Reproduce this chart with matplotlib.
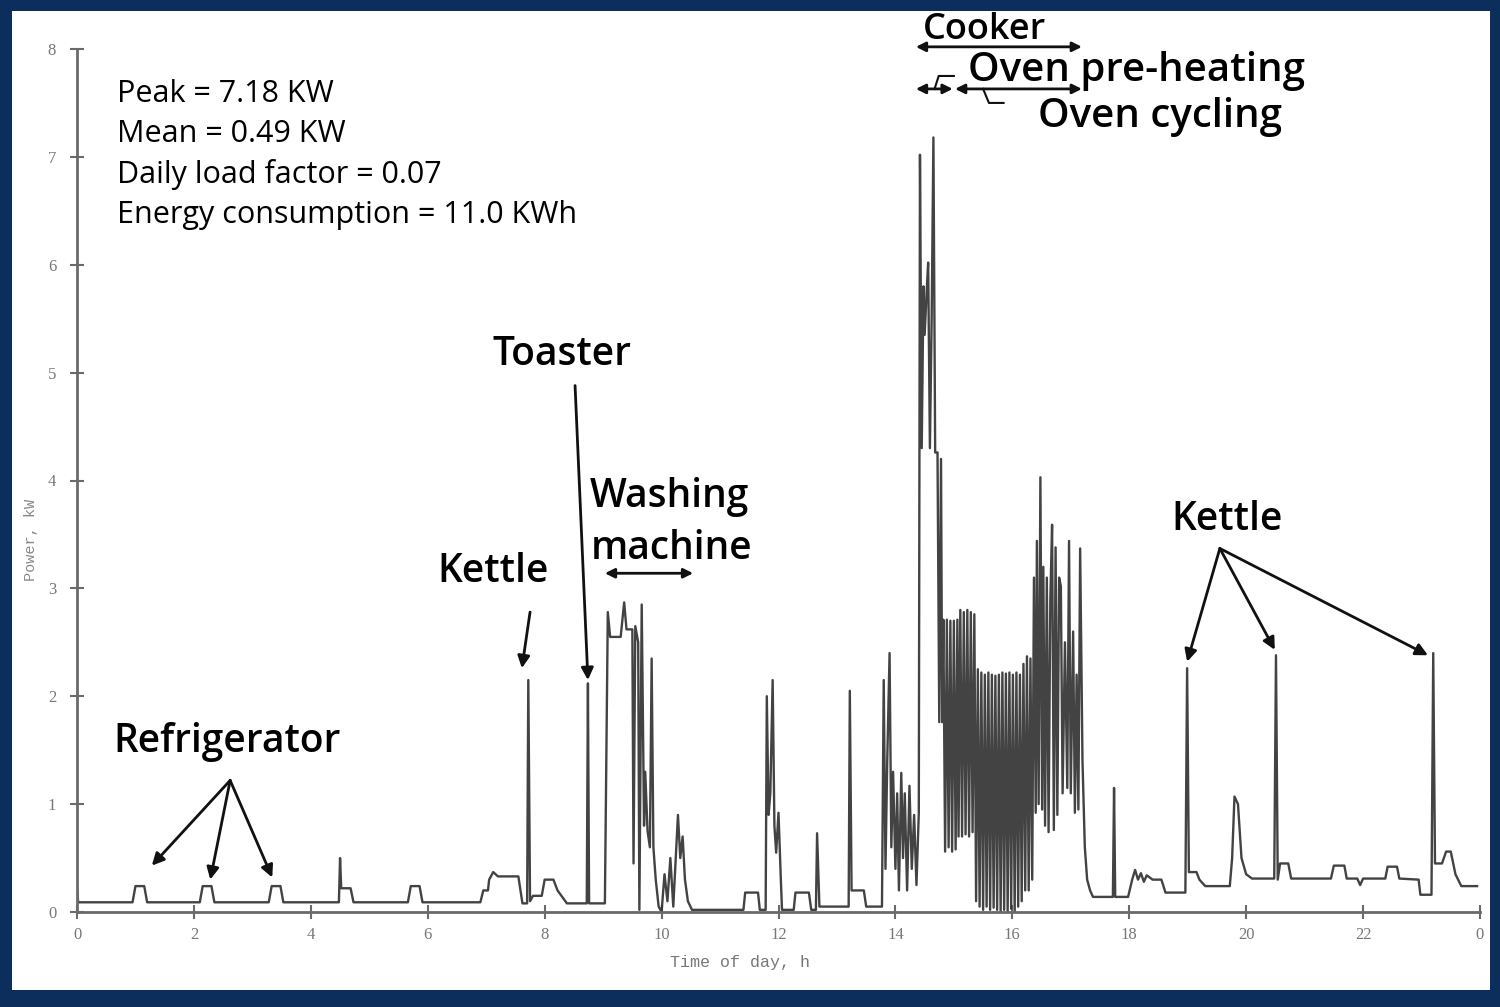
import matplotlib.pyplot as plt
from matplotlib.patches import Rectangle

# --- data (time in h, power in kW) ---
night = [(0.0, 0.22), (0.02, 0.09), (0.95, 0.09), (1.0, 0.24), (1.15, 0.24), (1.2, 0.09),
         (2.1, 0.09), (2.15, 0.24), (2.3, 0.24), (2.35, 0.09),
         (3.28, 0.09), (3.33, 0.24), (3.48, 0.24), (3.53, 0.09),
         (4.48, 0.09), (4.5, 0.5), (4.52, 0.22), (4.68, 0.22), (4.73, 0.09),
         (5.66, 0.09), (5.71, 0.24), (5.86, 0.24), (5.91, 0.09),
         (6.9, 0.09), (6.95, 0.2), (7.03, 0.2), (7.05, 0.3), (7.12, 0.37), (7.2, 0.33),
         (7.55, 0.33), (7.62, 0.08), (7.7, 0.08), (7.72, 2.15), (7.75, 0.1), (7.8, 0.15),
         (7.95, 0.15), (8.0, 0.3), (8.15, 0.3), (8.22, 0.2), (8.38, 0.08), (8.72, 0.08),
         (8.74, 2.12), (8.76, 0.08), (9.03, 0.08)]

washing = [(9.08, 2.78), (9.12, 2.55), (9.3, 2.55), (9.36, 2.87), (9.4, 2.62), (9.5, 2.62),
           (9.52, 0.45), (9.55, 2.65), (9.6, 2.5), (9.62, 0.02), (9.66, 2.85), (9.7, 0.8),
           (9.72, 1.3), (9.76, 0.75), (9.8, 0.6), (9.83, 2.35), (9.86, 0.6), (9.9, 0.3),
           (9.95, 0.05), (10.0, 0.0), (10.05, 0.35), (10.1, 0.1), (10.15, 0.5), (10.2, 0.05),
           (10.28, 0.9), (10.32, 0.5), (10.36, 0.7), (10.4, 0.3), (10.45, 0.1), (10.52, 0.02)]

midday = [(11.4, 0.02), (11.43, 0.18), (11.65, 0.18), (11.68, 0.02), (11.78, 0.02),
          (11.8, 2.0), (11.83, 0.9), (11.86, 1.1), (11.9, 2.15), (11.93, 0.8), (11.96, 0.55),
          (12.0, 0.92), (12.04, 0.3), (12.06, 0.02), (12.26, 0.02), (12.29, 0.18),
          (12.52, 0.18), (12.56, 0.02), (12.64, 0.02), (12.66, 0.73), (12.7, 0.05),
          (13.2, 0.05), (13.22, 2.05), (13.25, 0.2), (13.46, 0.2), (13.5, 0.05), (13.77, 0.05)]

cooking = [(13.8, 2.15), (13.83, 0.4), (13.86, 1.4), (13.9, 2.4), (13.93, 0.6), (13.96, 1.3),
           (14.0, 0.4), (14.03, 1.1), (14.06, 0.2), (14.1, 1.29), (14.13, 0.5), (14.16, 1.1),
           (14.2, 0.2), (14.24, 1.17), (14.28, 0.4), (14.32, 0.9), (14.36, 0.25), (14.4, 0.92),
           (14.42, 7.02), (14.45, 4.3), (14.48, 5.8), (14.5, 5.35), (14.53, 5.7), (14.56, 6.02),
           (14.59, 4.3), (14.62, 5.5), (14.65, 7.18), (14.68, 4.26), (14.72, 4.26), (14.75, 1.76),
           (14.78, 4.2), (14.8, 1.76),
           # oven cycling
           (14.82, 2.71), (14.85, 0.56), (14.88, 2.71), (14.91, 0.6), (14.94, 2.7), (14.97, 0.56),
           (15.0, 2.7), (15.03, 0.58), (15.06, 2.71), (15.08, 0.7), (15.11, 2.8), (15.14, 0.7),
           (15.17, 2.78), (15.2, 0.72), (15.23, 2.8), (15.26, 0.7), (15.29, 2.78), (15.32, 0.74),
           (15.35, 2.76), (15.38, 0.1), (15.41, 2.25), (15.44, 0.05), (15.47, 2.22), (15.5, 0.02),
           (15.53, 2.2), (15.56, 0.05), (15.59, 2.22), (15.62, 0.02), (15.65, 2.2), (15.68, 0.04),
           (15.71, 2.19), (15.74, 0.02), (15.77, 2.2), (15.8, 0.0), (15.83, 2.22), (15.86, 0.02),
           (15.89, 2.21), (15.92, 0.0), (15.95, 2.22), (15.98, 0.03), (16.01, 2.2), (16.04, 0.0),
           (16.07, 2.22), (16.1, 0.05), (16.13, 2.2), (16.16, 0.1), (16.19, 2.3), (16.22, 0.2),
           (16.25, 2.37), (16.28, 0.2), (16.31, 2.35), (16.34, 0.3), (16.37, 3.1), (16.4, 0.92),
           (16.42, 3.44), (16.45, 1.0), (16.48, 4.03), (16.51, 0.95), (16.53, 3.2), (16.56, 0.8),
           (16.59, 3.1), (16.62, 0.74), (16.65, 2.9), (16.68, 3.59), (16.71, 0.76), (16.74, 3.38),
           (16.77, 0.9), (16.8, 3.1), (16.83, 3.02), (16.86, 1.1), (16.9, 2.5), (16.94, 1.15),
           (16.97, 3.44), (17.0, 1.1), (17.04, 2.6), (17.07, 0.92), (17.1, 2.2), (17.13, 0.95),
           (17.16, 3.37), (17.2, 1.4), (17.24, 0.6), (17.28, 0.3), (17.33, 0.2), (17.38, 0.14)]

evening = [(17.72, 0.14), (17.74, 1.15), (17.76, 0.14), (17.98, 0.14), (18.05, 0.3), (18.1, 0.39),
           (18.15, 0.3), (18.2, 0.36), (18.25, 0.28), (18.3, 0.34), (18.4, 0.3), (18.55, 0.3),
           (18.62, 0.18), (18.96, 0.18), (18.99, 2.26), (19.02, 0.37), (19.15, 0.37), (19.2, 0.3),
           (19.3, 0.24), (19.72, 0.24), (19.76, 0.5), (19.8, 1.07), (19.86, 1.0), (19.92, 0.5),
           (20.0, 0.35), (20.1, 0.31), (20.48, 0.31), (20.51, 2.38), (20.54, 0.3), (20.58, 0.45),
           (20.72, 0.45), (20.77, 0.31), (21.45, 0.31), (21.5, 0.43), (21.68, 0.43), (21.72, 0.31),
           (21.9, 0.31), (21.95, 0.25), (22.0, 0.31), (22.38, 0.31), (22.42, 0.42), (22.58, 0.42),
           (22.62, 0.31), (22.95, 0.3), (22.98, 0.16), (23.17, 0.16), (23.2, 2.4), (23.23, 0.45),
           (23.35, 0.45), (23.42, 0.56), (23.5, 0.56), (23.58, 0.35), (23.68, 0.24), (23.95, 0.24)]

x_ticks = list(range(0, 25, 2))
x_tick_labels = ['0', '2', '4', '6', '8', '10', '12', '14', '16', '18', '20', '22', '0']
y_ticks = list(range(0, 9))

stats = ['Peak = 7.18 KW', 'Mean = 0.49 KW', 'Daily load factor = 0.07',
         'Energy consumption = 11.0 KWh']

trace = night + washing + midday + cooking + evening
t = [p[0] for p in trace]
kw = [p[1] for p in trace]

navy = '#0b2e5c'
fig = plt.figure(figsize=(15, 10.07), dpi=100, facecolor=navy)
fig.patches.append(Rectangle((12 / 1500, 17 / 1007), 1478 / 1500, 979 / 1007,
                             transform=fig.transFigure, facecolor='white', edgecolor='none',
                             zorder=-10))

ax = fig.add_axes([77 / 1500, 1 - 912 / 1007, 1403 / 1500, 863 / 1007])
ax.set_facecolor('none')
ax.plot(t, kw, color='#2e2e2e', lw=1.7, alpha=0.9)

ax.set_xlim(0, 24)
ax.set_ylim(0, 8)
for s in ['top', 'right']:
    ax.spines[s].set_visible(False)
for s in ['left', 'bottom']:
    ax.spines[s].set_color('#6a6a6a')
    ax.spines[s].set_linewidth(2)
ax.set_xticks(x_ticks)
ax.set_xticklabels(x_tick_labels)
ax.set_yticks(y_ticks)
ax.tick_params(direction='inout', length=10, width=1.5, color='#6a6a6a', labelcolor='#777777',
               labelsize=12)
ax.tick_params(axis='x', pad=6)
ax.tick_params(axis='y', pad=10)
for lab in ax.get_xticklabels() + ax.get_yticklabels():
    lab.set_family('Liberation Serif')

fig.text(740 / 1500, 1 - 963 / 1007, 'Time of day, h', family='Liberation Mono', color='#777777',
         fontsize=12, ha='center', va='center')
fig.text(31 / 1500, 1 - 540 / 1007, 'Power, kW', family='Liberation Mono', color='#888888',
         fontsize=11, ha='center', va='center', rotation=90)

# --- annotations ---
font = 'Open Sans'
for i, s in enumerate(stats):
    ax.text(0.68, 7.58 - 0.372 * i, s, family=font, fontsize=22, va='center', ha='left')

arrow = dict(arrowstyle='-|>', color='#111111', lw=2, mutation_scale=18, shrinkA=0, shrinkB=0)
dbl = dict(arrowstyle='<|-|>', color='#111111', lw=2, mutation_scale=14, shrinkA=0, shrinkB=0)

label = dict(family=font, fontsize=28, fontweight='semibold', ha='center', va='center')
ax.text(2.57, 1.58, 'Refrigerator', **label)
for tip in [(1.28, 0.43), (2.28, 0.30), (3.34, 0.32)]:
    ax.annotate('', xy=tip, xytext=(2.62, 1.22), arrowprops=arrow)

ax.text(7.12, 3.15, 'Kettle', **label)
ax.annotate('', xy=(7.61, 2.26), xytext=(7.75, 2.78), arrowprops=arrow)

ax.text(8.3, 5.16, 'Toaster', **label)
ax.annotate('', xy=(8.74, 2.15), xytext=(8.52, 4.88), arrowprops=arrow)

ax.text(8.78, 3.61, 'Washing\nmachine', family=font, fontsize=28, fontweight='semibold',
        ha='left', va='center', linespacing=1.4)
ax.annotate('', xy=(10.54, 3.14), xytext=(9.03, 3.14), arrowprops=dbl)

ax.text(19.67, 3.63, 'Kettle', **label)
for tip in [(18.99, 2.32), (20.49, 2.43), (23.11, 2.38)]:
    ax.annotate('', xy=tip, xytext=(19.55, 3.37), arrowprops=arrow)

small = dict(family=font, fontsize=29, fontweight='semibold', va='center', clip_on=False)
ax.text(15.53, 8.09, 'Cooker', ha='center', family=font, fontsize=26, fontweight='semibold',
        va='baseline', clip_on=False)
ax.annotate('', xy=(17.19, 8.02), xytext=(14.35, 8.02), arrowprops=dbl, annotation_clip=False)
ax.text(15.24, 7.8, 'Oven pre-heating', ha='left', **small)
ax.annotate('', xy=(14.98, 7.63), xytext=(14.35, 7.63), arrowprops=dbl, annotation_clip=False)
ax.annotate('', xy=(17.19, 7.63), xytext=(15.02, 7.63), arrowprops=dbl, annotation_clip=False)
ax.plot([14.67, 14.74, 15.0], [7.63, 7.75, 7.75], color='#111111', lw=1.5, clip_on=False)
ax.plot([15.5, 15.6, 15.85], [7.63, 7.5, 7.5], color='#111111', lw=1.5, clip_on=False)
ax.text(16.44, 7.37, 'Oven cycling', ha='left', **small)

fig.savefig('out.png', dpi=100, facecolor=navy)
